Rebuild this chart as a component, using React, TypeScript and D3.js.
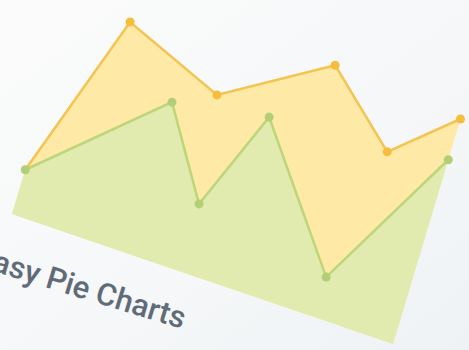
import React from "react";
import * as d3 from "d3";

// Data (x along the chart's horizontal axis, y along its vertical axis)
const yellowX = [0, 1.44, 4.03, 6.63, 8.49, 10];
const yellowY = [1.77, 8.43, 6.86, 9.4, 6.9, 9.0];
const greenX = [0, 3.01, 4.38, 5.43, 7.93, 10];
const greenY = [1.77, 6.04, 2.68, 6.7, 1.6, 7.37];
const title = "Easy Pie Charts";

type P = { x: number; y: number };

export default function App() {
  const W = 469;
  const H = 350;
  const lw = 400;
  const lh = 250;
  const xs = d3.scaleLinear().domain([0, 10]).range([0, lw]);
  const ys = d3.scaleLinear().domain([0, 10]).range([0, lh]);
  const O = { x: 12, y: 214 };
  const ex = { x: 381 / lw, y: 130 / lw };
  const up = { x: 0.3, y: -1 };
  const proj = (dx: number, dy: number) => {
    const u = xs(dx);
    const v = ys(dy);
    return { x: O.x + u * ex.x + v * up.x, y: O.y + u * ex.y + v * up.y };
  };

  const yellow: P[] = yellowX.map((x, i) => ({ x, y: yellowY[i] }));
  const green: P[] = greenX.map((x, i) => ({ x, y: greenY[i] }));

  const area = d3
    .area<P>()
    .x0((d) => proj(d.x, 0).x)
    .y0((d) => proj(d.x, 0).y)
    .x1((d) => proj(d.x, d.y).x)
    .y1((d) => proj(d.x, d.y).y);
  const line = d3
    .line<P>()
    .x((d) => proj(d.x, d.y).x)
    .y((d) => proj(d.x, d.y).y);

  return (
    <svg width={W} height={H} style={{ position: "absolute", left: 0, top: 0 }}>
      <defs>
        <linearGradient id="bg" x1="0" y1="0" x2="1" y2="1">
          <stop offset="0" stopColor="#fbfbfb" />
          <stop offset="0.6" stopColor="#f5f7f8" />
          <stop offset="1" stopColor="#eef2f5" />
        </linearGradient>
        <filter id="soft">
          <feGaussianBlur stdDeviation="0.5" />
        </filter>
      </defs>
      <rect width={W} height={H} fill="url(#bg)" />
      <g filter="url(#soft)">
        <path d={area(yellow) ?? ""} fill="#feeaa6" />
        <path d={area(green) ?? ""} fill="#e1eaaf" />
        <path d={line(yellow) ?? ""} fill="none" stroke="#f4c452" strokeWidth={2.5} />
        <path d={line(green) ?? ""} fill="none" stroke="#bdd679" strokeWidth={2.5} />
        {yellow.slice(1).map((d, i) => {
          const p = proj(d.x, d.y);
          return <circle key={"y" + i} cx={p.x} cy={p.y} r={4.5} fill="#f5bd3a" />;
        })}
        {green.map((d, i) => {
          const p = proj(d.x, d.y);
          return <circle key={"g" + i} cx={p.x} cy={p.y} r={4.5} fill="#b2cf78" />;
        })}
      </g>
      <text
        x={182}
        y={329}
        textAnchor="end"
        transform="rotate(17 182 329)"
        fontFamily="Roboto, sans-serif"
        fontWeight={500}
        fontSize={31}
        fill="#5f6b78"
      >
        {title}
      </text>
    </svg>
  );
}
